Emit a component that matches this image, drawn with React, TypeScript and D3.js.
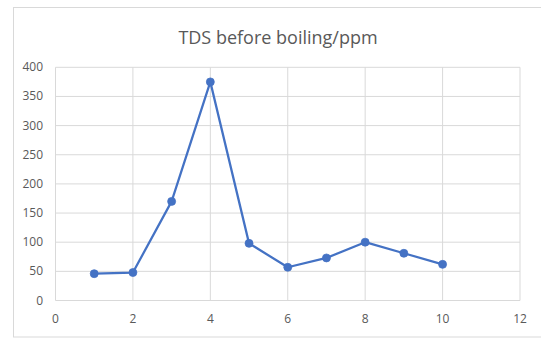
import React from "react";
import * as d3 from "d3";

const xValues = [1, 2, 3, 4, 5, 6, 7, 8, 9, 10];
const tdsValues = [46, 48, 170, 375, 98, 57, 73, 100, 81, 62];
const xTicks = [0, 2, 4, 6, 8, 10, 12];
const yTicks = [0, 50, 100, 150, 200, 250, 300, 350, 400];
const title = "TDS before boiling/ppm";

export default function App() {
  const W = 541, H = 339;
  const left = 55.5, right = 520, top = 67.3, bottom = 300.5;
  const x = d3.scaleLinear().domain([0, 12]).range([left, right]);
  const y = d3.scaleLinear().domain([0, 400]).range([bottom, top]);
  const pts = xValues.map((v, i) => [v, tdsValues[i]] as [number, number]);
  const line = d3.line<[number, number]>().x(d => x(d[0])).y(d => y(d[1]));
  const font = "'Open Sans', 'Noto Sans', sans-serif";
  return (
    <svg width={W} height={H} style={{ position: "absolute", left: 0, top: 0, background: "#fff" }} fontFamily={font}>
      <rect x={13.5} y={7.5} width={W + 10} height={329.5} fill="#fff" stroke="#d9d9d9" strokeWidth={1} />
      <text x={278} y={44} textAnchor="middle" fontSize={18} fill="#595959">{title}</text>
      {yTicks.map(t => (
        <g key={"y" + t}>
          <line x1={left} x2={right} y1={y(t)} y2={y(t)} stroke="#d9d9d9" strokeWidth={1} />
          <text x={43} y={y(t) + 4} textAnchor="end" fontSize={12} fill="#595959">{t}</text>
        </g>
      ))}
      {xTicks.map(t => (
        <g key={"x" + t}>
          <line x1={x(t)} x2={x(t)} y1={top} y2={bottom} stroke="#d9d9d9" strokeWidth={1} />
          <text x={x(t)} y={323} textAnchor="middle" fontSize={12} fill="#595959">{t}</text>
        </g>
      ))}
      <path d={line(pts) || ""} fill="none" stroke="#4472C4" strokeWidth={2.25} strokeLinejoin="round" />
      {pts.map((p, i) => (
        <circle key={i} cx={x(p[0])} cy={y(p[1])} r={4} fill="#4472C4" stroke="#4472C4" strokeWidth={0.75} />
      ))}
    </svg>
  );
}
